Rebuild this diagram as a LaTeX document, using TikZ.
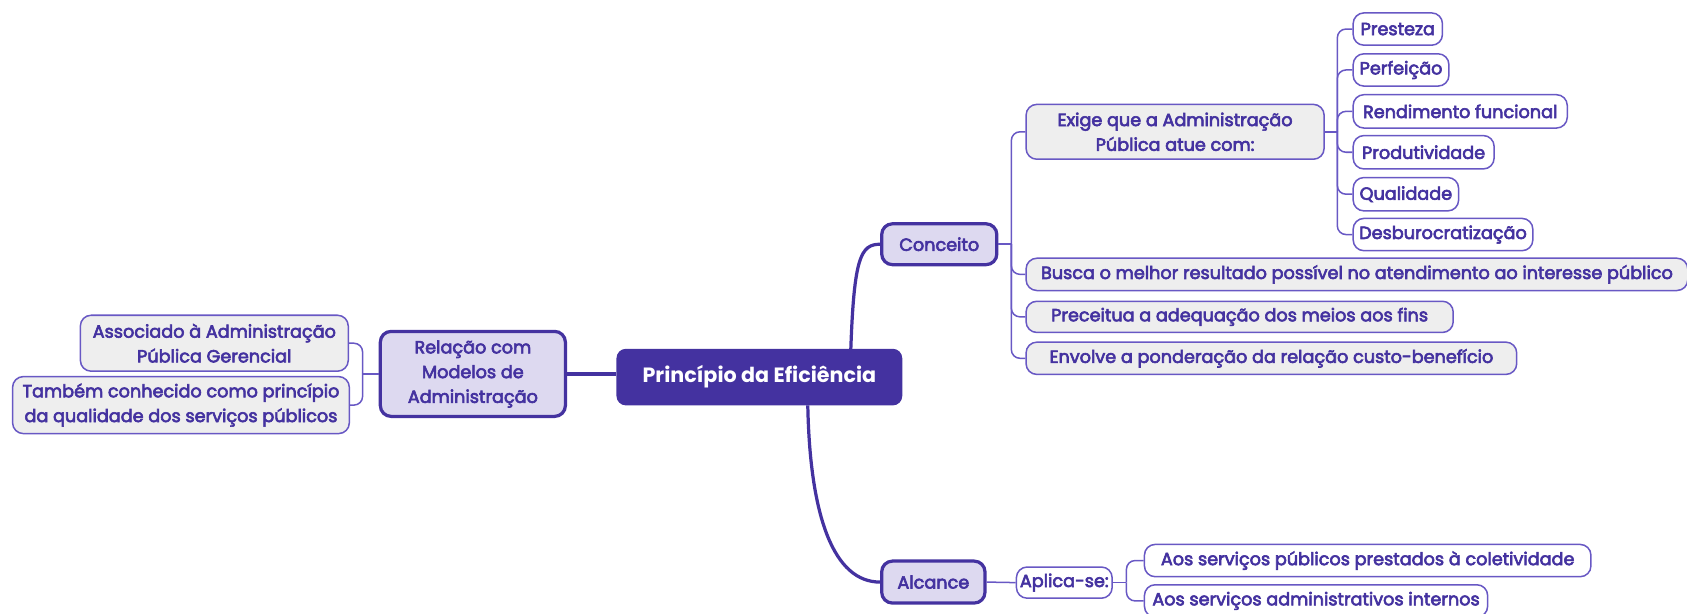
\documentclass[tikz,border=0pt]{standalone}
\usepackage{fontspec}
\setmainfont{Poppins}
\newcommand\medweight{\special{pdf:literal direct 2 Tr 0.28 w}}
\definecolor{mainp}{RGB}{68,50,160}
\definecolor{lav}{RGB}{221,217,240}
\definecolor{grayf}{RGB}{238,238,238}
\definecolor{thinp}{RGB}{104,88,196}
\begin{document}
\begin{tikzpicture}[x=0.5pt,y=-0.5pt,
  every node/.style={inner sep=0pt, align=center, text=mainp},
  central/.style={draw=mainp, fill=mainp, text=white, rounded corners=4pt, font=\bfseries\fontsize{9.6}{12}\selectfont, line width=0.8pt},
  branch/.style={draw=mainp, fill=lav, rounded corners=5pt, line width=1.5pt, font=\medweight\fontsize{8.2}{11.5}\selectfont},
  gbox/.style={draw=thinp, fill=grayf, rounded corners=5pt, line width=0.7pt, font=\medweight\fontsize{8.2}{11.5}\selectfont},
  wbox/.style={draw=thinp, fill=white, rounded corners=5pt, line width=0.7pt, font=\medweight\fontsize{8.2}{11.5}\selectfont},
  thickc/.style={draw=mainp, line width=1.5pt},
  thinc/.style={draw=thinp, line width=0.7pt, rounded corners=4pt}]
\useasboundingbox (0,0) rectangle (1568,570);

% connectors first
\coordinate (lj) at (337,347.5);
\coordinate (cj) at (940,227);
\coordinate (ej) at (1243,122.5);
\coordinate (aj) at (1047,541.5);

% central
\node[central, minimum width=132pt, minimum height=25.5pt, anchor=west] (c) at (573,350.5) {Princípio da Eficiência};

% left branch
\node[branch, minimum width=86pt, minimum height=39.5pt, anchor=west] (rel) at (352,347.5) {Relação com\\Modelos de\\Administração};
\node[gbox, minimum width=124.5pt, minimum height=26pt, anchor=west] (asso) at (74,319) {Associado à Administração\\Pública Gerencial};
\node[gbox, minimum width=156.5pt, minimum height=26.5pt, anchor=west] (tamb) at (11,376.5) {Também conhecido como princípio\\da qualidade dos serviços públicos};

% right branches
\node[branch, minimum width=53.5pt, minimum height=19pt, anchor=west] (conc) at (818,227) {Conceito};
\node[branch, minimum width=48pt, minimum height=19.5pt, anchor=west] (alc) at (818,541) {Alcance};

% Conceito children
\node[gbox, minimum width=138.5pt, minimum height=25.5pt, anchor=west] (exige) at (953,122.5) {Exige que a Administração\\Pública atue com:};
\node[gbox, minimum width=307.5pt, minimum height=15pt, anchor=west] (busca) at (953,255) {Busca o melhor resultado possível no atendimento ao interesse público};
\node[gbox, minimum width=198.5pt, minimum height=14.5pt, anchor=west] (prec) at (953,294.5) {Preceitua a adequação dos meios aos fins};
\node[gbox, minimum width=228pt, minimum height=15pt, anchor=west] (envo) at (953,333) {Envolve a ponderação da relação custo-benefício};

% Exige children
\node[wbox, minimum width=41.5pt, minimum height=15pt, anchor=west] (p1) at (1257,27) {Presteza};
\node[wbox, minimum width=44.5pt, minimum height=15pt, anchor=west] (p2) at (1257,65) {Perfeição};
\node[wbox, minimum width=99.5pt, minimum height=15.5pt, anchor=west] (p3) at (1257,103.5) {Rendimento funcional};
\node[wbox, minimum width=65.5pt, minimum height=15.5pt, anchor=west] (p4) at (1257,141.5) {Produtividade};
\node[wbox, minimum width=49pt, minimum height=15.5pt, anchor=west] (p5) at (1257,180.5) {Qualidade};
\node[wbox, minimum width=83.5pt, minimum height=15pt, anchor=west] (p6) at (1257,218) {Desburocratização};

% Alcance children
\node[wbox, minimum width=44.5pt, minimum height=14.5pt, anchor=west] (apl) at (944,541.5) {Aplica-se:};
\node[wbox, minimum width=207.5pt, minimum height=15pt, anchor=west] (a1) at (1063,521) {Aos serviços públicos prestados à coletividade};
\node[wbox, minimum width=159.5pt, minimum height=15pt, anchor=west] (a2) at (1063,558.5) {Aos serviços administrativos internos};

% connectors
\draw[thickc] (rel.east) -- (rel.east -| c.west);
\draw[thickc] ([xshift=42.5pt]c.north) .. controls +(3,-85) and +(-18,0) .. (conc.west);
\draw[thickc] ([xshift=22.5pt]c.south) .. controls +(2,104) and +(-43,0) .. (alc.west);

\draw[thinc] (rel.west) -- (lj);
\draw[thinc] (lj) |- (asso.east);
\draw[thinc] (lj) |- (tamb.east);

\draw[thinc] (conc.east) -- (cj);
\foreach \n in {exige,busca,prec,envo} \draw[thinc] (cj) |- (\n.west);

\draw[thinc] (exige.east) -- (ej);
\foreach \n in {p1,p2,p3,p4,p5,p6} \draw[thinc] (ej) |- (\n.west);

\draw[thinc] (alc.east) -- (apl.west);
\draw[thinc] (apl.east) -- (aj);
\foreach \n in {a1,a2} \draw[thinc] (aj) |- (\n.west);
\end{tikzpicture}
\end{document}
